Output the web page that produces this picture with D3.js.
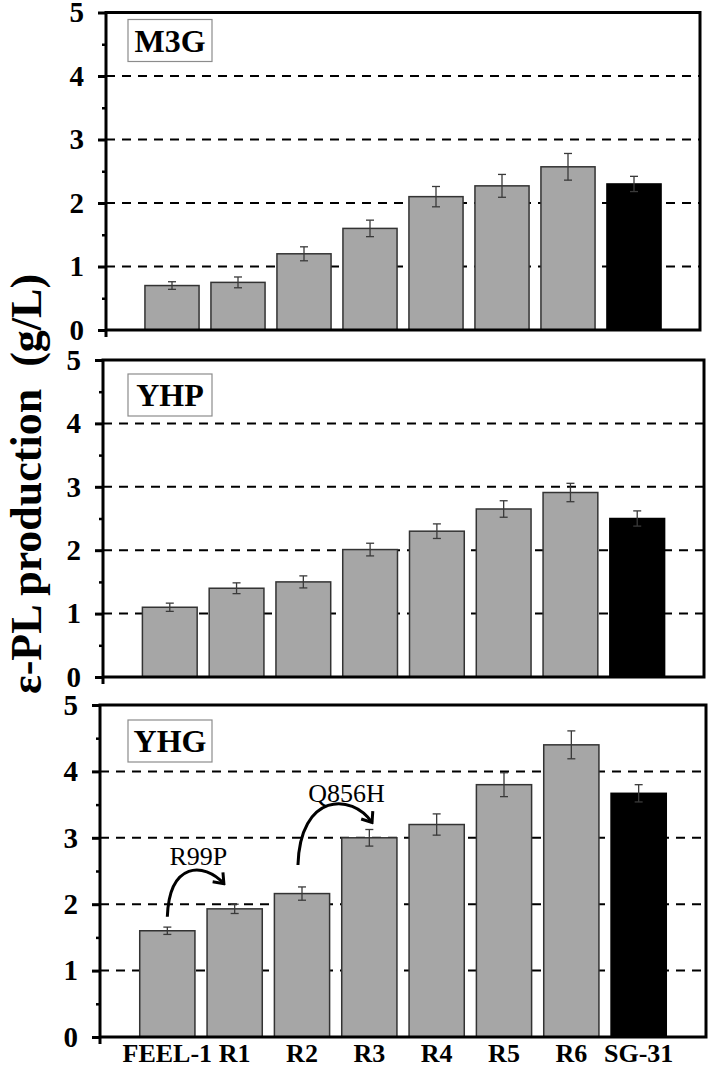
<!DOCTYPE html>
<html>
<head>
<meta charset="utf-8">
<script src="https://cdn.jsdelivr.net/npm/d3@7"></script>
<style>
  body { margin: 0; background: #fff; }
  svg { display: block; }
  svg text { font-family: "Liberation Serif", "Times New Roman", "DejaVu Serif", serif !important; }
</style>
</head>
<body>
<svg id="chart"></svg>
<script>
// data
const categories = ["FEEL-1", "R1", "R2", "R3", "R4", "R5", "R6", "SG-31"];
const strains = ["M3G", "YHP", "YHG"];
const m3gValues = [0.70, 0.75, 1.20, 1.60, 2.10, 2.27, 2.57, 2.30];
const m3gErrors = [0.06, 0.085, 0.11, 0.13, 0.16, 0.18, 0.21, 0.12];
const yhpValues = [1.10, 1.40, 1.50, 2.01, 2.30, 2.65, 2.91, 2.50];
const yhpErrors = [0.065, 0.085, 0.095, 0.10, 0.115, 0.13, 0.145, 0.12];
const yhgValues = [1.60, 1.93, 2.16, 3.00, 3.20, 3.80, 4.40, 3.67];
const yhgErrors = [0.055, 0.07, 0.10, 0.125, 0.16, 0.18, 0.21, 0.13];
const yTicks = [0, 1, 2, 3, 4, 5];
const yMinorTicks = [0.5, 1.5, 2.5, 3.5, 4.5];
const gridValues = [1, 2, 3, 4];
const referenceStrain = "SG-31";
// mutation arrows in the YHG panel: [category, offset in steps, value]
const mutations = [
  { label: "R99P", from: ["FEEL-1", 0, 1.81], to: ["R1", -0.16, 2.31], lift: 2.64, text: ["FEEL-1", 0.46, 2.59] },
  { label: "Q856H", from: ["R2", -0.06, 2.59], to: ["R3", 0.04, 3.23], lift: 3.68, text: ["R3", -0.34, 3.54] },
];

const seriesValues = [m3gValues, yhpValues, yhgValues];
const seriesErrors = [m3gErrors, yhpErrors, yhgErrors];

const width = 709;
const height = 1067;
const serif = '"Liberation Serif", "Times New Roman", serif';

// panel layout (pixel boxes of each plot area)
const panels = [
  { left: 106, right: 700, top: 12.5, bottom: 330, boxDy: 7 },
  { left: 103, right: 704, top: 360, bottom: 677, boxDy: 14 },
  { left: 100, right: 706, top: 705, bottom: 1037, boxDy: 15 },
];

const svg = d3.select("#chart").attr("width", width).attr("height", height);

const defs = svg.append("defs");
defs.append("marker")
  .attr("id", "chevron")
  .attr("markerUnits", "userSpaceOnUse")
  .attr("viewBox", "-12 -9 14 18")
  .attr("markerWidth", 14)
  .attr("markerHeight", 18)
  .attr("refX", 0)
  .attr("refY", 0)
  .attr("orient", "auto")
  .append("path")
  .attr("d", "M-9,-7 L0,0 L-9,7")
  .attr("fill", "none")
  .attr("stroke", "#000")
  .attr("stroke-width", 3);

panels.forEach((p, i) => {
  const g = svg.append("g").attr("class", "panel");
  const step = (p.right - p.left) / 9;

  const x = d3.scaleBand()
    .domain(categories)
    .range([p.left + step / 2, p.right - step / 2])
    .paddingInner(0.18)
    .paddingOuter(0.09);
  const y = d3.scaleLinear().domain([0, 5]).range([p.bottom, p.top]);

  const rows = categories.map((c, k) => ({
    cat: c,
    value: seriesValues[i][k],
    err: seriesErrors[i][k],
  }));

  // dashed grid
  g.append("g")
    .selectAll("line")
    .data(gridValues)
    .join("line")
    .attr("x1", p.left)
    .attr("x2", p.right)
    .attr("y1", (d) => y(d))
    .attr("y2", (d) => y(d))
    .attr("stroke", "#000")
    .attr("stroke-width", 2)
    .attr("stroke-dasharray", "9 7");

  // bars
  g.append("g")
    .selectAll("rect")
    .data(rows)
    .join("rect")
    .attr("x", (d) => x(d.cat))
    .attr("y", (d) => y(d.value))
    .attr("width", x.bandwidth())
    .attr("height", (d) => y(0) - y(d.value))
    .attr("fill", (d) => (d.cat === referenceStrain ? "#000" : "#a6a6a6"))
    .attr("stroke", (d) => (d.cat === referenceStrain ? "#000" : "#333"))
    .attr("stroke-width", 1.5);

  // error bars
  const eb = g.append("g")
    .attr("stroke", "#3a3a3a")
    .attr("stroke-width", 1.3)
    .selectAll("g")
    .data(rows)
    .join("g")
    .attr("transform", (d) => `translate(${x(d.cat) + x.bandwidth() / 2},0)`);
  eb.append("line")
    .attr("y1", (d) => y(d.value - d.err))
    .attr("y2", (d) => y(d.value + d.err));
  eb.append("line")
    .attr("x1", -4).attr("x2", 4)
    .attr("y1", (d) => y(d.value + d.err))
    .attr("y2", (d) => y(d.value + d.err));
  eb.append("line")
    .attr("x1", -4).attr("x2", 4)
    .attr("y1", (d) => y(d.value - d.err))
    .attr("y2", (d) => y(d.value - d.err));

  // plot frame
  g.append("rect")
    .attr("x", p.left)
    .attr("y", p.top)
    .attr("width", p.right - p.left)
    .attr("height", p.bottom - p.top)
    .attr("fill", "none")
    .attr("stroke", "#000")
    .attr("stroke-width", 3);
  g.append("line")
    .attr("x1", p.left).attr("x2", p.left)
    .attr("y1", p.bottom).attr("y2", p.bottom + 7)
    .attr("stroke", "#000").attr("stroke-width", 3);

  // y axis with major and minor ticks
  const yAxis = g.append("g")
    .attr("transform", `translate(${p.left},0)`)
    .call(d3.axisLeft(y).tickValues(yTicks).tickSize(8).tickPadding(14).tickFormat(d3.format("d")));
  yAxis.attr("font-family", null);
  yAxis.select(".domain").remove();
  yAxis.selectAll(".tick line").attr("stroke", "#000").attr("stroke-width", 3);
  yAxis.selectAll(".tick text")
    .style("font-family", serif)
    .attr("font-size", 29)
    .attr("font-weight", "bold")
    .attr("fill", "#000");

  const yMinor = g.append("g")
    .attr("transform", `translate(${p.left},0)`)
    .call(d3.axisLeft(y).tickValues(yMinorTicks).tickSize(4).tickFormat(""));
  yMinor.select(".domain").remove();
  yMinor.selectAll(".tick line").attr("stroke", "#000").attr("stroke-width", 2.5);

  // strain label box
  const bx = 128;
  const by = p.top + p.boxDy;
  g.append("rect")
    .attr("x", bx).attr("y", by)
    .attr("width", 84).attr("height", 42)
    .attr("fill", "#fff")
    .attr("stroke", "#8c8c8c")
    .attr("stroke-width", 1.2);
  g.append("text")
    .attr("x", bx + 42)
    .attr("y", by + 32)
    .attr("text-anchor", "middle")
    .style("font-family", serif)
    .attr("font-size", 32)
    .attr("font-weight", "bold")
    .text(strains[i]);

  // categories only under the bottom panel
  if (i === panels.length - 1) {
    const xAxis = g.append("g")
      .attr("transform", `translate(0,${p.bottom})`)
      .call(d3.axisBottom(x).tickSize(0).tickPadding(7));
    xAxis.attr("font-family", null);
    xAxis.select(".domain").remove();
    xAxis.selectAll(".tick text")
      .style("font-family", serif)
      .attr("font-size", 26)
      .attr("font-weight", "bold")
      .attr("fill", "#000");

    const px = (c, off) => x(c) + x.bandwidth() / 2 + off * step;
    mutations.forEach((m) => {
      const x0 = px(m.from[0], m.from[1]);
      const y0 = y(m.from[2]);
      const x1 = px(m.to[0], m.to[1]);
      const y1 = y(m.to[2]);
      const path = d3.path();
      path.moveTo(x0, y0);
      path.bezierCurveTo(x0 + 0.03 * step, y(m.lift), x1 - 0.3 * step, y(m.lift), x1, y1);
      g.append("path")
        .attr("d", path.toString())
        .attr("fill", "none")
        .attr("stroke", "#000")
        .attr("stroke-width", 3)
        .attr("marker-end", "url(#chevron)");
      g.append("text")
        .attr("x", px(m.text[0], m.text[1]))
        .attr("y", y(m.text[2]))
        .attr("text-anchor", "middle")
        .style("font-family", serif)
        .attr("font-size", 26)
        .text(m.label);
    });
  }
});

// shared y title
svg.append("text")
  .attr("transform", "translate(41,484) rotate(-90)")
  .attr("text-anchor", "middle")
  .style("font-family", serif)
  .attr("font-size", 44)
  .attr("font-weight", "bold")
  .text("ε-PL production\u00a0\u00a0(g/L)");
</script>
</body>
</html>
